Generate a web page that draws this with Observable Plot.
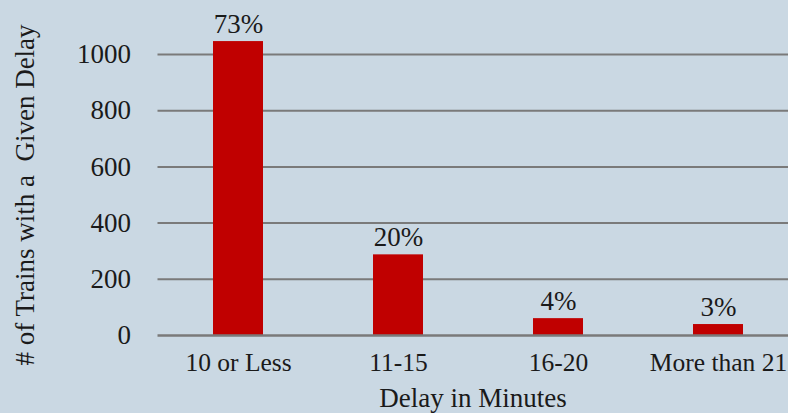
<!DOCTYPE html>
<html>
<head>
<meta charset="utf-8">
<script src="https://cdn.jsdelivr.net/npm/d3@7"></script>
<script src="https://cdn.jsdelivr.net/npm/@observablehq/plot@0.6"></script>
<style>
  html, body { margin: 0; padding: 0; background: #cad8e3; overflow: hidden; }
  #chart svg { display: block; background: #cad8e3; }
  #chart svg, #chart svg text { font-family: 'Liberation Serif', 'DejaVu Serif', serif !important; }
</style>
</head>
<body>
<div id="chart"></div>
<script>
const categories = ["10 or Less", "11-15", "16-20", "More than 21"];
const counts = [1046, 287, 60, 39];
const pctLabels = ["73%", "20%", "4%", "3%"];
const yTicks = [0, 200, 400, 600, 800, 1000];
const xTitle = "Delay in Minutes";
const yTitle = "# of Trains with a  Given Delay";

const data = categories.map((c, i) => ({category: c, count: counts[i], pct: pctLabels[i]}));

const font = "Liberation Serif";
const fs = 27;

const chart = Plot.plot({
  width: 788,
  height: 413,
  marginLeft: 157.5,
  marginRight: -9.5,
  marginTop: 54,
  marginBottom: 78,
  style: {background: "#cad8e3", color: "#1a1a1a", overflow: "hidden"},
  x: {domain: categories, paddingInner: 0.69, paddingOuter: 0.345, label: null},
  y: {domain: [0, 1000], label: null},
  marks: [
    Plot.ruleY(yTicks.filter(d => d > 0), {stroke: "#7a7a7a", strokeWidth: 2}),
    Plot.barY(data, {x: "category", y: "count", fill: "#c00000"}),
    Plot.ruleY([0], {stroke: "#7a7a7a", strokeWidth: 2.5}),
    Plot.axisY({ticks: yTicks, tickFormat: d => String(d), tickSize: 0, tickPadding: 27, fontSize: fs, fontFamily: font, label: null, fill: "#1a1a1a"}),
    Plot.axisX({tickSize: 0, tickPadding: 17, fontSize: 25.5, fontFamily: font, label: null, fill: "#1a1a1a"}),
    Plot.text(data, {x: "category", y: "count", text: "pct", dy: -9, lineAnchor: "bottom", fontSize: fs, fontFamily: font, fill: "#1a1a1a"}),
    Plot.text([xTitle], {frameAnchor: "bottom", dx: -5, dy: 71, lineAnchor: "bottom", fontSize: fs, fontFamily: font, fill: "#1a1a1a"}),
    Plot.text([yTitle], {frameAnchor: "left", textAnchor: "middle", rotate: -90, dx: -132.5, lineAnchor: "middle", fontSize: fs, fontFamily: font, fill: "#1a1a1a"})
  ]
});
document.getElementById("chart").appendChild(chart);
</script>
</body>
</html>
